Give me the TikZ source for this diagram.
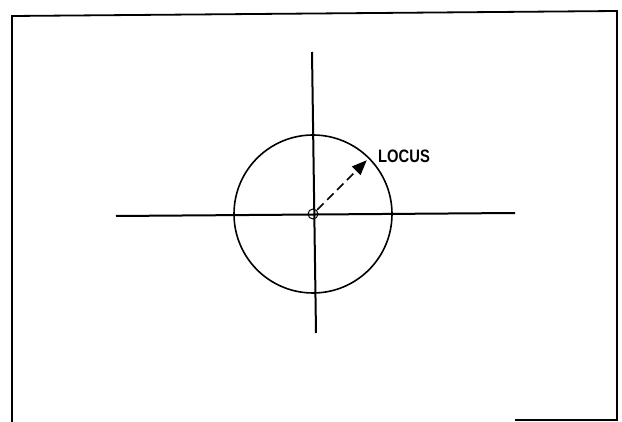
\documentclass[tikz,border=0pt]{standalone}
\usepackage{fontspec}
\newfontfamily\lab[FakeStretch=0.82]{Liberation Sans}
\usetikzlibrary{arrows.meta,calc}
\tikzset{
  frame/.style={line width=1.8pt},
  axis/.style={line width=2pt},
  ring/.style={line width=1.6pt},
  radius line/.style={line width=1.5pt, dash pattern=on 9pt off 5pt, -{Triangle[length=15pt,width=12pt]}},
  lbl/.style={font=\lab\bfseries\fontsize{18}{18}\selectfont, inner sep=0pt, anchor=west}
}
\begin{document}
\begin{tikzpicture}[x=1pt,y=-1pt]
\useasboundingbox (0,0) rectangle (622,422);
\coordinate (O) at (313,214);
% frame
\draw[frame] (12,422) -- (12,16) -- (617,11) -- (617,420) -- (515,420);
% axes
\draw[axis] (116,216) -- (515,213);
\draw[axis] (312,52) -- (316,333);
% locus circle
\draw[ring] (O) circle[radius=79];
\draw[line width=1pt] (O) circle[radius=5];
% radius
\coordinate (S) at ($(O)+(-45:6)$);
\coordinate (E) at ($(O)+(-45:76)$);
\draw[radius line] (S) -- (E);
\node[lbl] (locus) at (378,156) {LOCUS};
\end{tikzpicture}
\end{document}
